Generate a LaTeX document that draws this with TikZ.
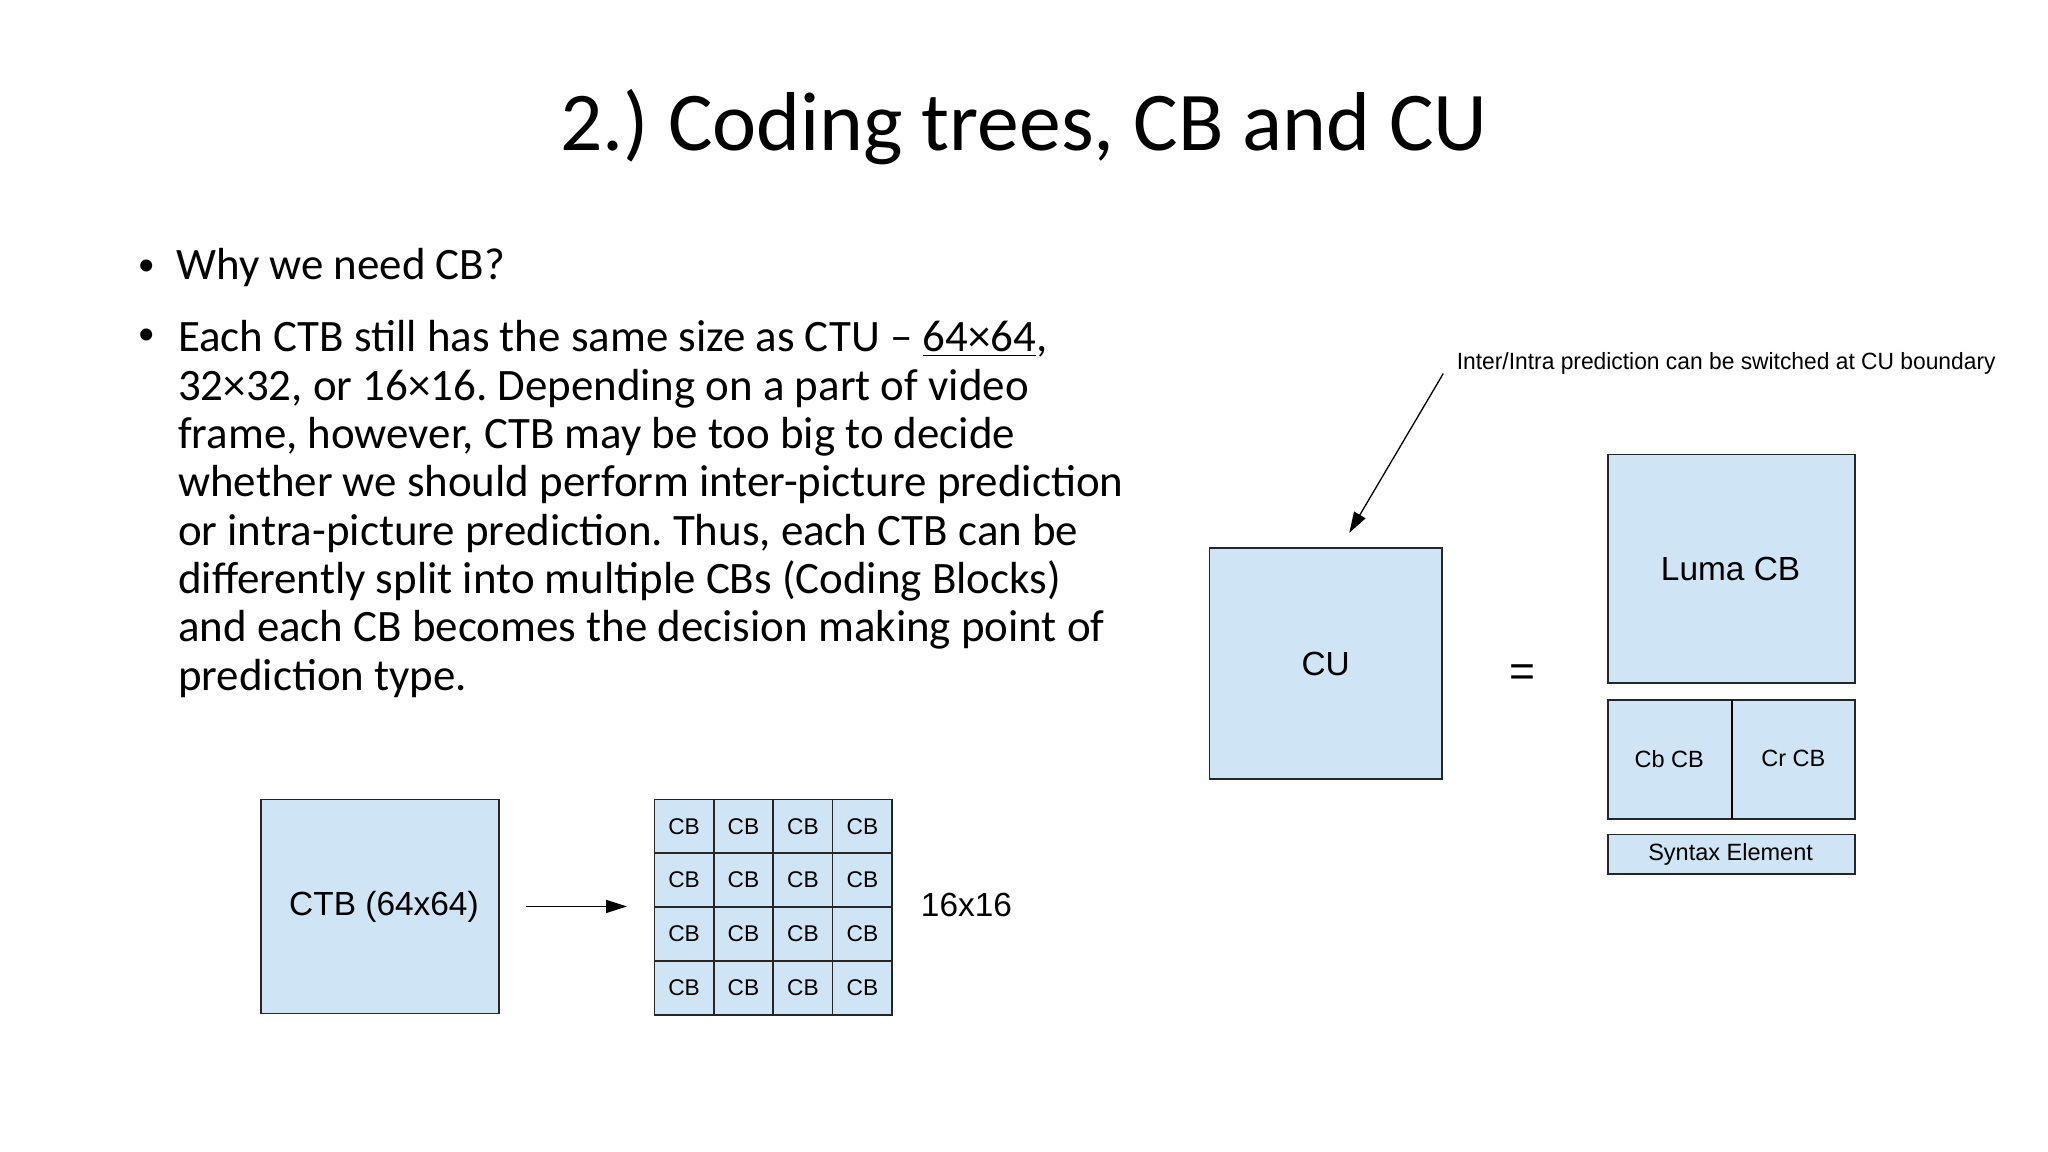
\documentclass[tikz,border=0pt]{standalone}
\usepackage{fontspec}
\setmainfont{Carlito}
\newfontfamily\arial{Liberation Sans}
\usetikzlibrary{arrows.meta}
\definecolor{boxblue}{HTML}{CFE4F4}
\tikzset{
  blk/.style={draw=black!85, fill=boxblue, line width=0.6pt},
  lbl/.style={font=\arial, text=black},
  conn/.style={-{Triangle[length=8pt,width=5pt]}, line width=0.5pt}
}
\frenchspacing
\begin{document}
\begin{tikzpicture}[x=0.5pt,y=-0.5pt]
\useasboundingbox (0,0) rectangle (1568,882);
\node (title) at (784,97) {\fontsize{32}{38}\selectfont 2.) Coding trees, CB and CU};
\node (b1) at (112,205) {\fontsize{13}{18.5}\selectfont\textbullet};
\node[anchor=west] (t1) at (128,205) {\fontsize{17.2}{18.5}\selectfont Why we need CB?};
\node (b2) at (112,258) {\fontsize{13}{18.5}\selectfont\textbullet};
\node[anchor=north west, inner sep=0pt] (t2) at (136,243) {\fontsize{17.2}{18.5}\selectfont
\begin{tabular}{@{}l@{}}
Each CTB still has the same size as CTU -- \underline{64×64},\\
32×32, or 16×16. Depending on a part of video\\
frame, however, CTB may be too big to decide\\
whether we should perform inter-picture prediction\\
or intra-picture prediction. Thus, each CTB can be\\
differently split into multiple CBs (Coding Blocks)\\
and each CB becomes the decision making point of\\
prediction type.
\end{tabular}};
% CTB
\draw[blk] (200,612) rectangle (382,776);
\node[lbl, font=\arial\fontsize{12.8}{14}\selectfont] (ctb) at (294,694) {CTB (64x64)};
\coordinate (a1) at (403,694);
\coordinate (a2) at (480,694);
\draw[conn] (a1) -- (a2);
\foreach \i in {0,...,3}{\foreach \j in {0,...,3}{
  \draw[blk] ({501+45.5*\i},{612+41.25*\j}) rectangle ({501+45.5*(\i+1)},{612+41.25*(\j+1)});
  \node[lbl, font=\arial\fontsize{8.7}{10}\selectfont] (cb\i\j) at ({501+45.5*(\i+0.5)},{612+41.25*(\j+0.5)}) {CB};
}}
\node[lbl, font=\arial\fontsize{12.8}{14}\selectfont] (sz) at (740,693) {16x16};
% CU
\node[blk, minimum width=89pt, minimum height=88.5pt, inner sep=0pt] (cu) at (1015,508) {};
\node[lbl, font=\arial\fontsize{12.8}{14}\selectfont] at (1015,508) {CU};
\node[lbl, font=\arial\fontsize{17}{18}\selectfont] (eq) at (1166,517) {=};
\draw[blk] (1231,348) rectangle (1420,523);
\node[lbl, font=\arial\fontsize{12.8}{14}\selectfont] (luma) at (1325,436) {Luma CB};
\draw[blk] (1231,536) rectangle (1420,627);
\draw[line width=0.6pt] (1326,536) -- (1326,627);
\node[lbl, font=\arial\fontsize{9}{10}\selectfont] (cbcb) at (1278,581) {Cb CB};
\node[lbl, font=\arial\fontsize{9}{10}\selectfont] (crcb) at (1373,581) {Cr CB};
\draw[blk] (1231,639) rectangle (1420,669);
\node[lbl, font=\arial\fontsize{9}{10}\selectfont] (syn) at (1325,654) {Syntax Element};
\node[lbl, anchor=west, inner sep=0pt, xscale=0.97, font=\arial\fontsize{9}{10}\selectfont] (note) at (1115,278) {Inter/Intra prediction can be switched at CU boundary};
\coordinate (n1) at (1105,286);
\coordinate (n2) at (1033,408);
\draw[conn] (n1) -- (n2);
\end{tikzpicture}
\end{document}
